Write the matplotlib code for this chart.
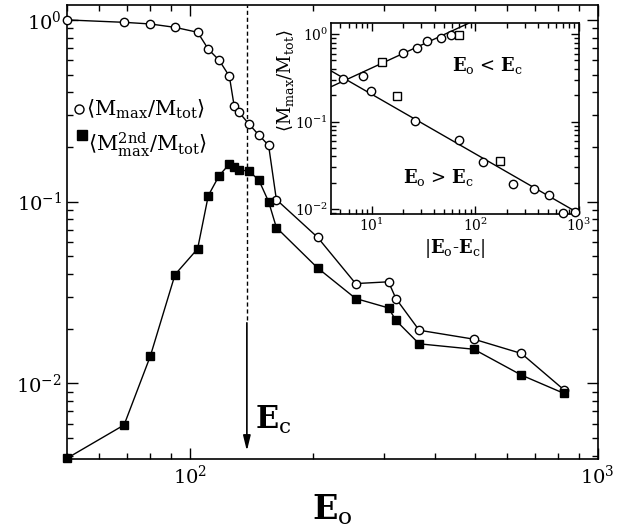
import matplotlib
matplotlib.use("Agg")
import matplotlib.pyplot as plt

plt.rcParams["font.family"] = "DejaVu Serif"
plt.rcParams["mathtext.fontset"] = "dejavuserif"

# -- data --------------------------------------------------------------------

e0 = [50, 69, 80, 92, 104.5, 111, 118, 125, 128.5, 132, 139.5, 147.5,
      156, 163, 205.6, 255, 307, 320, 365, 497, 650, 827]
m_max = [1.0, 0.97, 0.95, 0.91, 0.855, 0.69, 0.60, 0.49, 0.334, 0.31, 0.268,
         0.233, 0.204, 0.1026, 0.0637, 0.0354, 0.0362, 0.0293, 0.0196,
         0.0175, 0.0146, 0.0092]
m_2nd = [0.00387, 0.0059, 0.0141, 0.0397, 0.055, 0.108, 0.139, 0.161, 0.156,
         0.150, 0.147, 0.132, 0.100, 0.072, 0.0432, 0.0293, 0.026, 0.0222,
         0.0165, 0.0154, 0.0111, 0.0088]
e_c = 138

# inset: |E0 - Ec| vs <Mmax/Mtot>
ins_circ_x = [5.25, 8.3, 20.2, 27.2, 33.9, 46.2, 58.2,
              9.78, 26.2, 70, 119, 232, 367, 516, 704, 913]
ins_circ_y = [0.306, 0.331, 0.601, 0.687, 0.838, 0.908, 0.974,
              0.225, 0.102, 0.0615, 0.0342, 0.0191, 0.0169, 0.0145, 0.0091, 0.0093]
ins_sq_x = [12.65, 70, 17.7, 172.6]
ins_sq_y = [0.482, 0.99, 0.197, 0.0354]

# fitted power laws, given by their end points
fit_below_x = [4.05, 86]
fit_below_y = [0.25, 1.33]
fit_above_x = [4.05, 1000]
fit_above_y = [0.38, 0.0089]

# -- figure ------------------------------------------------------------------

fig = plt.figure(figsize=(6.39, 5.27), dpi=100)
ax = fig.add_axes((0.1049, 0.1285, 0.8305, 0.862))

ax.plot(e0, m_max, "-o", color="black", mfc="white", mec="black",
        ms=6, lw=1, mew=1, clip_on=False, zorder=3)
ax.plot(e0, m_2nd, "-s", color="black", mfc="black", mec="black",
        ms=6, lw=1, clip_on=False, zorder=3)

ax.set_xscale("log")
ax.set_yscale("log")
ax.set_xlim(50, 1000)
ax.set_ylim(0.00382, 1.208)

ax.tick_params(which="both", direction="in", top=True, right=True,
               labelsize=14, width=1)
ax.tick_params(which="major", length=8)
ax.tick_params(which="minor", length=4.5)
ax.xaxis.set_minor_formatter(plt.NullFormatter())
for s in ax.spines.values():
    s.set_linewidth(1.2)

ax.set_xlabel(r"$\mathbf{E}_{\rm o}$", fontsize=24, labelpad=4)

# critical energy marker
ax.plot([e_c, e_c], [0.0223, 1.208], color="black", lw=1,
        linestyle=(0, (3, 2)))
ax.annotate("", xy=(e_c, 0.0041), xytext=(e_c, 0.0223),
            arrowprops=dict(arrowstyle="-|>,head_length=0.9,head_width=0.22",
                            color="black", lw=1.2))
ax.text(e_c * 1.045, 0.0063, r"$\mathbf{E}_{\rm c}$", fontsize=22,
        va="center", ha="left")

# legend drawn by hand
ax.plot([0.0226], [0.771], "o", mfc="white", mec="black", ms=6.5,
        transform=ax.transAxes)
ax.text(0.036, 0.771, r"$\langle\mathrm{M}_{\rm max}/\mathrm{M}_{\rm tot}\rangle$",
        transform=ax.transAxes, fontsize=15, va="center", ha="left")
ax.plot([0.0283], [0.714], "s", color="black", ms=6.5, transform=ax.transAxes)
ax.text(0.040, 0.692,
        r"$\langle\mathrm{M}^{\rm 2nd}_{\rm max}/\mathrm{M}_{\rm tot}\rangle$",
        transform=ax.transAxes, fontsize=15, va="center", ha="left")

# -- inset -------------------------------------------------------------------

axi = fig.add_axes((0.518, 0.5934, 0.388, 0.3624))
axi.plot(fit_below_x, fit_below_y, color="black", lw=1)
axi.plot(fit_above_x, fit_above_y, color="black", lw=1)
axi.plot(ins_circ_x, ins_circ_y, "o", mfc="white", mec="black", ms=6,
         mew=1, clip_on=False, zorder=3)
axi.plot(ins_sq_x, ins_sq_y, "s", mfc="white", mec="black", ms=6,
         mew=1, clip_on=False, zorder=3)
axi.set_xscale("log")
axi.set_yscale("log")
axi.set_xlim(4.05, 1000)
axi.set_ylim(0.0087, 1.33)
axi.tick_params(which="both", direction="in", top=True, right=True,
                labelsize=10, width=1, pad=2)
axi.tick_params(which="major", length=6)
axi.tick_params(which="minor", length=3.5)
axi.xaxis.set_minor_formatter(plt.NullFormatter())
axi.yaxis.set_minor_formatter(plt.NullFormatter())
for s in axi.spines.values():
    s.set_linewidth(1.2)

axi.set_xlabel(r"$|\mathbf{E}_{\rm o}$-$\mathbf{E}_{\rm c}|$", fontsize=13,
               labelpad=2)
axi.set_ylabel(r"$\langle\mathrm{M}_{\rm max}/\mathrm{M}_{\rm tot}\rangle$",
               fontsize=13, labelpad=0)
axi.yaxis.set_label_coords(-0.14, 0.7)

axi.text(0.49, 0.78, r"$\mathbf{E}_{\rm o}$ < $\mathbf{E}_{\rm c}$",
         transform=axi.transAxes, fontsize=13, ha="left", va="center")
axi.text(0.29, 0.19, r"$\mathbf{E}_{\rm o}$ > $\mathbf{E}_{\rm c}$",
         transform=axi.transAxes, fontsize=13, ha="left", va="center")

fig.savefig("out.png", dpi=100)
